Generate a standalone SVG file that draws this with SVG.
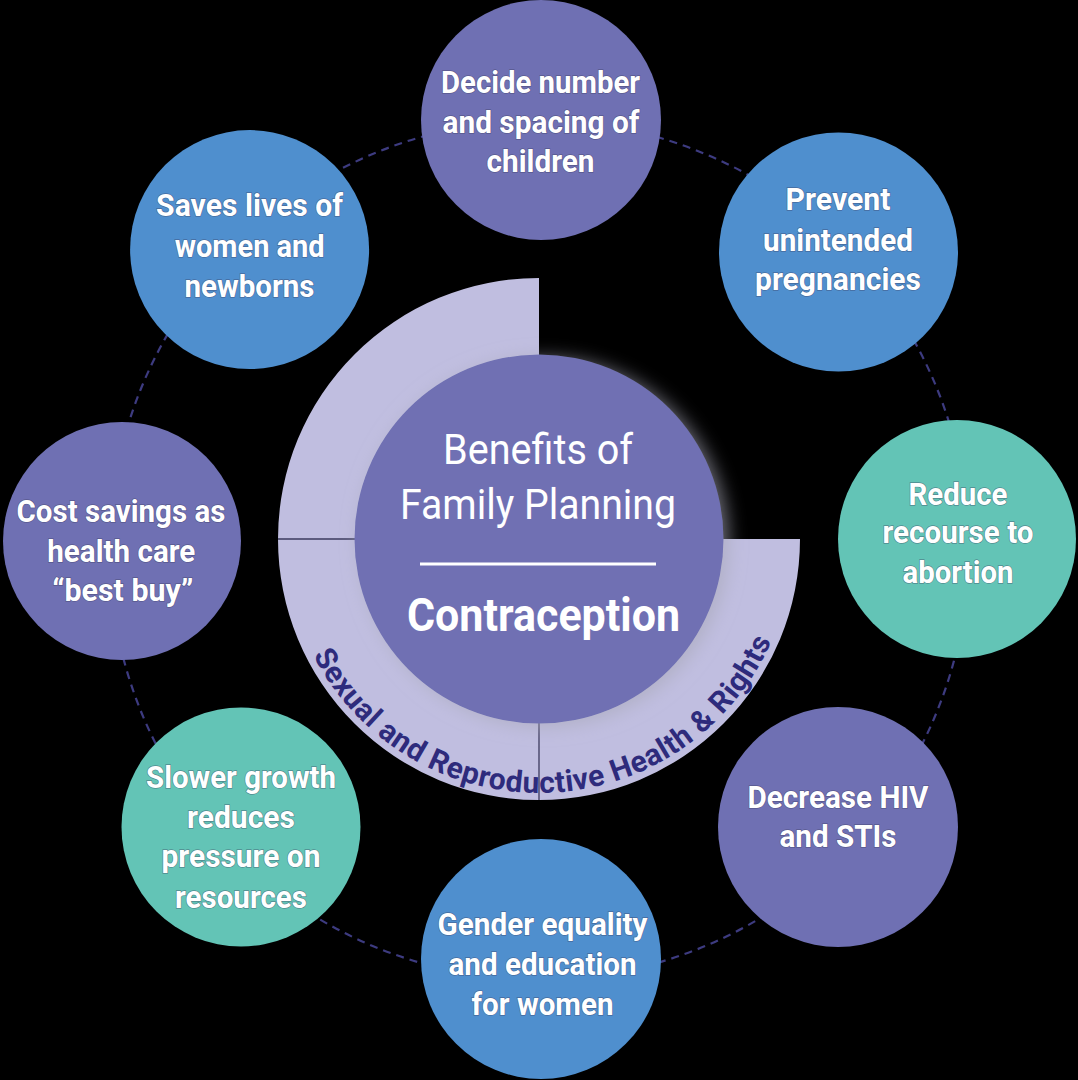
<svg xmlns="http://www.w3.org/2000/svg" width="1078" height="1080" viewBox="0 0 1078 1080">
<defs>
<style>
.bg{fill:#000}
.purple{fill:#6f70b3}
.blue{fill:#4f8fce}
.teal{fill:#63c4b6}
.ring{fill:#c0bee0}
.div{stroke:#3b3a5e;stroke-width:1.3;fill:none}
.dash{fill:none;stroke:#3d3b80;stroke-width:2.2;stroke-dasharray:8 6}
.lbl{font-family:Roboto,"Liberation Sans",sans-serif;font-weight:700;font-size:32px;fill:#fff;text-anchor:middle;stroke:#3a3a5a;stroke-opacity:0.45;stroke-width:1.4;paint-order:stroke}
.ctitle{font-family:Roboto,"Liberation Sans",sans-serif;font-weight:400;font-size:42px;fill:#fff;text-anchor:middle}
.cbold{font-family:Roboto,"Liberation Sans",sans-serif;font-weight:700;font-size:46px;fill:#fff;text-anchor:middle}
.arc{font-family:Roboto,"Liberation Sans",sans-serif;font-weight:700;font-size:30px;fill:#2e2b7c}
</style>
<filter id="glow" x="-30%" y="-30%" width="160%" height="160%">
<feDropShadow dx="5" dy="3" stdDeviation="9" flood-color="#a8a8b8" flood-opacity="0.65"/>
</filter>
<path id="arcPath" d="M313.1,655.1 A254,254 0 0,0 771.9,640.3"/>
</defs>
<rect class="bg" x="0" y="0" width="1078" height="1080"/>

<g id="connectors">
<circle class="dash" cx="539" cy="550" r="429.5"/>
</g>

<g id="srhr-ring">
<path class="ring" d="M539,539 L539,278 A261,261 0 0,0 278,539 A261,261 0 0,0 539,800 A261,261 0 0,0 800,539 Z"/>
<line class="div" x1="278" y1="539" x2="356" y2="539"/>
<line class="div" x1="539" y1="722" x2="539" y2="800"/>
<text class="arc"><textPath href="#arcPath" textLength="572" lengthAdjust="spacing">Sexual and Reproductive Health &amp; Rights</textPath></text>
</g>

<g id="center">
<circle class="purple" cx="539" cy="539" r="184.5" filter="url(#glow)"/>
<text class="ctitle" x="538" y="464" textLength="190" lengthAdjust="spacingAndGlyphs">Benefits of</text>
<text class="ctitle" x="538" y="519" textLength="276" lengthAdjust="spacingAndGlyphs">Family Planning</text>
<line x1="420" y1="564" x2="656" y2="564" stroke="#fff" stroke-width="3"/>
<text class="cbold" x="543.5" y="631" textLength="273" lengthAdjust="spacingAndGlyphs">Contraception</text>
</g>

<g id="node-decide">
<circle class="purple" cx="541" cy="120" r="120"/>
<text class="lbl" x="540.5" y="93" textLength="199" lengthAdjust="spacingAndGlyphs">Decide number</text>
<text class="lbl" x="541" y="133" textLength="197" lengthAdjust="spacingAndGlyphs">and spacing of</text>
<text class="lbl" x="540.5" y="172" textLength="108" lengthAdjust="spacingAndGlyphs">children</text>
</g>

<g id="node-prevent">
<circle class="blue" cx="838.5" cy="252" r="119.5"/>
<text class="lbl" x="838" y="210" textLength="105" lengthAdjust="spacingAndGlyphs">Prevent</text>
<text class="lbl" x="838" y="250.5" textLength="150" lengthAdjust="spacingAndGlyphs">unintended</text>
<text class="lbl" x="838" y="290" textLength="166" lengthAdjust="spacingAndGlyphs">pregnancies</text>
</g>

<g id="node-reduce">
<circle class="teal" cx="957" cy="539" r="119"/>
<text class="lbl" x="958" y="505" textLength="99" lengthAdjust="spacingAndGlyphs">Reduce</text>
<text class="lbl" x="958" y="543" textLength="151" lengthAdjust="spacingAndGlyphs">recourse to</text>
<text class="lbl" x="958" y="583" textLength="111" lengthAdjust="spacingAndGlyphs">abortion</text>
</g>

<g id="node-decrease">
<circle class="purple" cx="838" cy="827" r="120"/>
<text class="lbl" x="838" y="808" textLength="181" lengthAdjust="spacingAndGlyphs">Decrease HIV</text>
<text class="lbl" x="838" y="847" textLength="117" lengthAdjust="spacingAndGlyphs">and STIs</text>
</g>

<g id="node-gender">
<circle class="blue" cx="541" cy="959" r="120"/>
<text class="lbl" x="542.5" y="935" textLength="210" lengthAdjust="spacingAndGlyphs">Gender equality</text>
<text class="lbl" x="542.5" y="975" textLength="188" lengthAdjust="spacingAndGlyphs">and education</text>
<text class="lbl" x="542.5" y="1014.5" textLength="142" lengthAdjust="spacingAndGlyphs">for women</text>
</g>

<g id="node-slower">
<circle class="teal" cx="241" cy="827" r="119.5"/>
<text class="lbl" x="241" y="788" textLength="190" lengthAdjust="spacingAndGlyphs">Slower growth</text>
<text class="lbl" x="241" y="827.5" textLength="108" lengthAdjust="spacingAndGlyphs">reduces</text>
<text class="lbl" x="241" y="867" textLength="159" lengthAdjust="spacingAndGlyphs">pressure on</text>
<text class="lbl" x="241" y="908" textLength="132" lengthAdjust="spacingAndGlyphs">resources</text>
</g>

<g id="node-cost">
<circle class="purple" cx="122" cy="541" r="119"/>
<text class="lbl" x="121" y="522" textLength="209" lengthAdjust="spacingAndGlyphs">Cost savings as</text>
<text class="lbl" x="121.3" y="562" textLength="148" lengthAdjust="spacingAndGlyphs">health care</text>
<text class="lbl" x="122.8" y="601" textLength="141" lengthAdjust="spacingAndGlyphs">“best buy”</text>
</g>

<g id="node-saves">
<circle class="blue" cx="249.6" cy="249.6" r="119.5"/>
<text class="lbl" x="249.6" y="216" textLength="187" lengthAdjust="spacingAndGlyphs">Saves lives of</text>
<text class="lbl" x="249.7" y="256.5" textLength="150" lengthAdjust="spacingAndGlyphs">women and</text>
<text class="lbl" x="249.5" y="297" textLength="130" lengthAdjust="spacingAndGlyphs">newborns</text>
</g>
</svg>
